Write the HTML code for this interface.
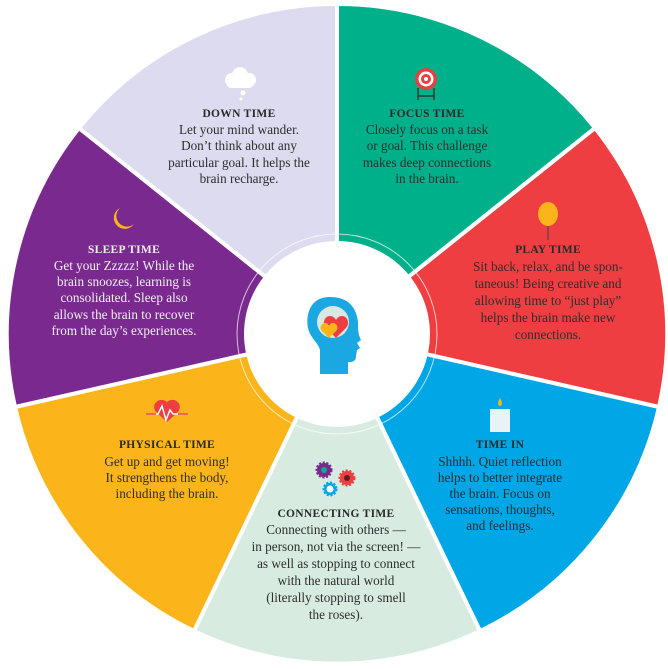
<!DOCTYPE html>
<html><head><meta charset="utf-8"><style>
html,body{margin:0;padding:0;background:#fff;}
svg{display:block}
.t{font-family:"Liberation Serif",serif;font-size:11.5px;font-weight:bold;letter-spacing:0.3px;fill:#2a2a2a;text-anchor:middle}
.b{font-family:"Liberation Serif",serif;font-size:13.2px;fill:#2e2e2e;text-anchor:middle}
.w{fill:#f3eef6}
</style></head><body>
<svg width="668" height="669" viewBox="0 0 668 669" xmlns="http://www.w3.org/2000/svg">
<g stroke="#fff" stroke-width="4" stroke-linejoin="round">
<path d="M337,334 L337,4 A330,330 0 0 1 595,128 Z" fill="#00b08b"/>
<path d="M337,334 L595,128 A330,330 0 0 1 659,407 Z" fill="#ef3e42"/>
<path d="M337,334 L659,407 A330,330 0 0 1 480,631 Z" fill="#00a6e6"/>
<path d="M337,334 L480,631 A330,330 0 0 1 194,631 Z" fill="#d7ebe1"/>
<path d="M337,334 L194,631 A330,330 0 0 1 15,407 Z" fill="#fbb51b"/>
<path d="M337,334 L15,407 A330,330 0 0 1 79,128 Z" fill="#7a2a8e"/>
<path d="M337,334 L79,128 A330,330 0 0 1 337,4 Z" fill="#dcdbef"/>
</g>
<circle cx="337" cy="334" r="100" fill="none" stroke="#fff" stroke-width="1" opacity="0.7"/>
<circle cx="337" cy="334" r="93" fill="#fff"/>
<path d="M330,297 C308,297 306,318 308,328 C310,338 318,342 320,350 L320,374 L348,374 L348,362 C352,362 356,362 356,356 L357,350 L360,348 L357,343 L361,340 C358,334 358,330 358,322 C356,305 346,297 330,297 Z" fill="#1ba7e1"/>
<circle cx="333" cy="322" r="16" fill="#d8e8e2"/>
<path d="M336,338 L326,328 C322,324 324,316 330,316 C333,316 335,318 336,320 C337,318 339,316 342,316 C348,316 350,324 346,328 Z" fill="#ef3e42"/>
<path d="M329,338 L322,331 C319,328 321,323 325,323 C327,323 328,324 329,326 C330,324 331,323 333,323 C337,323 339,328 336,331 Z" fill="#fbb51b"/>
<g fill="#fff"><circle cx="232" cy="80" r="7"/><circle cx="240" cy="75" r="8"/><circle cx="249" cy="80" r="7"/><rect x="227" y="79" width="26" height="9" rx="4"/><circle cx="243" cy="93" r="2.5"/><circle cx="241" cy="99" r="1.5"/></g>
<circle cx="426" cy="79" r="11" fill="#e84040"/><circle cx="426" cy="79" r="7.5" fill="#fff"/><circle cx="426" cy="79" r="5" fill="#e84040"/><circle cx="426" cy="79" r="2" fill="#fff"/>
<path d="M418,88 V100 M434,88 V100 M418,96 H434" stroke="#2a3a30" stroke-width="1.5"/>
<ellipse cx="548" cy="214" rx="10" ry="12" fill="#fbb51b"/><path d="M548,226 V240" stroke="#444" stroke-width="1"/>
<rect x="490" y="409" width="20" height="23" fill="#e8f3f8"/><path d="M500,398 C497,403 498,406 500,406 C502,406 503,403 500,398 Z" fill="#fbb51b"/>
<path d="M120,208 A11,11 0 1 0 134,224 A9,9 0 1 1 120,208 Z" fill="#fbb51b"/>
<path d="M167,402 C160,396 150,404 156,412 L167,422 L178,412 C184,404 174,396 167,402 Z" fill="#ef3e42"/>
<path d="M146,414 H158 L162,406 L166,420 L170,410 L173,414 H188" stroke="#fff" stroke-width="1.5" fill="none"/>
<path d="M146,414 H156 M178,414 H188" stroke="#ef3e42" stroke-width="1.5"/>
<circle cx="324" cy="470" r="7" fill="#7a2a8e" stroke="#7a2a8e" stroke-width="3" stroke-dasharray="2 1.5"/><circle cx="324" cy="470" r="3" fill="#00b08b"/>
<circle cx="347" cy="478" r="7" fill="#ef3e42" stroke="#ef3e42" stroke-width="3" stroke-dasharray="2 1.5"/><circle cx="347" cy="478" r="3" fill="#5a1f1f"/>
<circle cx="330" cy="489" r="6" fill="#00a6e6" stroke="#00a6e6" stroke-width="3" stroke-dasharray="2 1.5"/><circle cx="330" cy="489" r="3.5" fill="#fff"/>

<text class="t" x="239" y="117">DOWN TIME</text>
<text class="b" x="239" y="134">Let your mind wander.</text>
<text class="b" x="239" y="150">Don’t think about any</text>
<text class="b" x="239" y="167">particular goal. It helps the</text>
<text class="b" x="239" y="183">brain recharge.</text>

<text class="t" x="427" y="117">FOCUS TIME</text>
<text class="b" x="427" y="134">Closely focus on a task</text>
<text class="b" x="427" y="150">or goal. This challenge</text>
<text class="b" x="427" y="167">makes deep connections</text>
<text class="b" x="427" y="183">in the brain.</text>

<text class="t" x="548" y="253">PLAY TIME</text>
<text class="b" x="548" y="271">Sit back, relax, and be spon-</text>
<text class="b" x="548" y="288">taneous! Being creative and</text>
<text class="b" x="548" y="305">allowing time to “just play”</text>
<text class="b" x="548" y="322">helps the brain make new</text>
<text class="b" x="548" y="339">connections.</text>

<text class="t" x="124" y="253" style="fill:#f3eef6">SLEEP TIME</text>
<text class="b w" x="124" y="270">Get your Zzzzz! While the</text>
<text class="b w" x="124" y="286">brain snoozes, learning is</text>
<text class="b w" x="124" y="302">consolidated. Sleep also</text>
<text class="b w" x="124" y="319">allows the brain to recover</text>
<text class="b w" x="124" y="335">from the day’s experiences.</text>

<text class="t" x="167" y="448">PHYSICAL TIME</text>
<text class="b" x="167" y="466">Get up and get moving!</text>
<text class="b" x="167" y="482">It strengthens the body,</text>
<text class="b" x="167" y="498">including the brain.</text>

<text class="t" x="500" y="448">TIME IN</text>
<text class="b" x="500" y="466">Shhhh. Quiet reflection</text>
<text class="b" x="500" y="482">helps to better integrate</text>
<text class="b" x="500" y="498">the brain. Focus on</text>
<text class="b" x="500" y="514">sensations, thoughts,</text>
<text class="b" x="500" y="530">and feelings.</text>

<text class="t" x="336" y="517">CONNECTING TIME</text>
<text class="b" x="336" y="534">Connecting with others —</text>
<text class="b" x="336" y="551">in person, not via the screen! —</text>
<text class="b" x="336" y="568">as well as stopping to connect</text>
<text class="b" x="336" y="585">with the natural world</text>
<text class="b" x="336" y="602">(literally stopping to smell</text>
<text class="b" x="336" y="619">the roses).</text>
</svg>
</body></html>
